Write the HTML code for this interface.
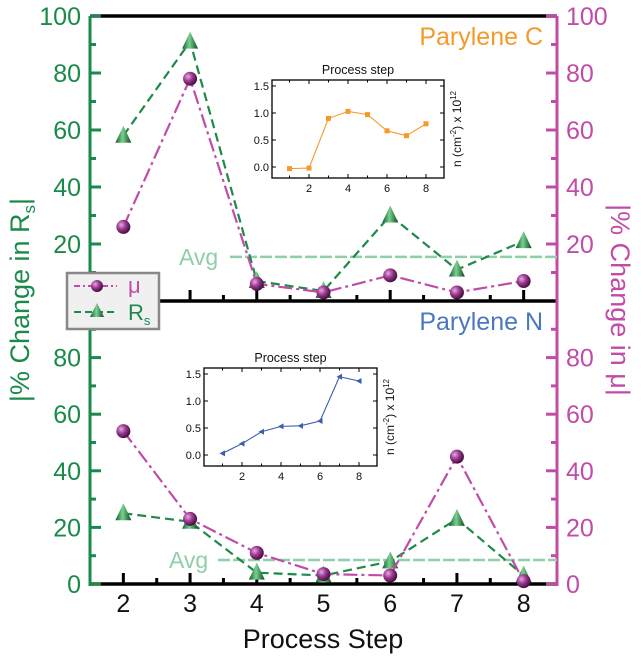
<!DOCTYPE html>
<html><head><meta charset="utf-8"><style>
html,body{margin:0;padding:0;background:#fff;}
svg{display:block;font-family:"Liberation Sans",sans-serif;}
</style></head><body>
<svg id="chart" width="643" height="661" viewBox="0 0 643 661">
<defs>
<radialGradient id="ball" cx="35%" cy="35%" r="65%"><stop offset="0" stop-color="#e8a8e0"/><stop offset="0.5" stop-color="#9a3a90"/><stop offset="1" stop-color="#4a1040"/></radialGradient>
<linearGradient id="cone" x1="0" x2="1"><stop offset="0" stop-color="#0e5a2a"/><stop offset="0.45" stop-color="#7ad090"/><stop offset="1" stop-color="#0c4a22"/></linearGradient>
</defs>
<g id="layer"></g>
</svg>
<script>
const steps = [2,3,4,5,6,7,8];
const topRs = [58,91,7,3.5,30,11,21];
const topMu = [26,78,6,3,9,3,7];
const topAvg = 15.5;
const botRs = [25,22,4,3,8,23,3];
const botMu = [54,23,11,3.5,3,45,1];
const botAvg = 8.5;
const insetX = [1,2,3,4,5,6,7,8];
const insetC = [-0.03,-0.02,0.9,1.03,0.97,0.67,0.58,0.8];
const insetN = [0.03,0.21,0.43,0.53,0.54,0.63,1.45,1.37];
const leftTicksTop = [20,40,60,80,100];
const leftTicksBot = [0,20,40,60,80];
const insetYTicks = [0,0.5,1.0,1.5];
const insetXTicks = [2,4,6,8];

const NS="http://www.w3.org/2000/svg";
const L=document.getElementById('layer');
function mk(tag,attrs,parent){const e=document.createElementNS(NS,tag);for(const k in attrs)e.setAttribute(k,attrs[k]);(parent||L).appendChild(e);return e;}
const X0=90,X1=557;
const xs=v=>X0+(v-1.5)/(7)*(X1-X0);
const yTop=v=>301-(v/100)*285;
const yBot=v=>584-(v/100)*283;
const GREEN="#1a8a4a",MAG="#c04ca8";

// axes
let e;
e=mk('line',{x1:X0,y1:16,x2:X1,y2:16,stroke:'#000','stroke-width':3.5});

e=mk('line',{x1:X0,y1:301,x2:X1,y2:301,stroke:'#000','stroke-width':3.5});

e=mk('line',{x1:X0,y1:584,x2:X1,y2:584,stroke:'#000','stroke-width':3.5});

e=mk('line',{x1:X0,y1:16,x2:X0,y2:586,stroke:GREEN,'stroke-width':3});

e=mk('line',{x1:X1,y1:16,x2:X1,y2:586,stroke:MAG,'stroke-width':3});


// x ticks on both panels
[301,584].forEach(yb=>{
  for(let v=2;v<=8;v+=0.5){
    const major=Number.isInteger(v);
    e=mk('line',{x1:xs(v),y1:yb,x2:xs(v),y2:yb-(major?11:6),stroke:'#000','stroke-width':3});
    
  }
});
steps.forEach(s=>{
  e=mk('text',{x:xs(s),y:612,'font-size':25,'text-anchor':'middle',fill:'#111'});e.textContent=s;
  
});
e=mk('text',{x:323,y:648,'font-size':27,'text-anchor':'middle',fill:'#111'});e.textContent='Process Step';


// y ticks
function yTicks(scale,ticks,minors){
  minors.forEach(v=>{
    e=mk('line',{x1:X0,y1:scale(v),x2:X0+6,y2:scale(v),stroke:GREEN,'stroke-width':3});
    
    e=mk('line',{x1:X1,y1:scale(v),x2:X1-6,y2:scale(v),stroke:MAG,'stroke-width':3});
    
  });
  ticks.forEach(v=>{
    e=mk('line',{x1:X0,y1:scale(v),x2:X0+11,y2:scale(v),stroke:GREEN,'stroke-width':3});
    
    e=mk('line',{x1:X1,y1:scale(v),x2:X1-11,y2:scale(v),stroke:MAG,'stroke-width':3});
    
    e=mk('text',{x:X0-9,y:scale(v)+9,'font-size':25,'text-anchor':'end',fill:GREEN});e.textContent=v;
    
    e=mk('text',{x:X1+9,y:scale(v)+9,'font-size':25,'text-anchor':'start',fill:MAG});e.textContent=v;
    
  });
}
yTicks(yTop,leftTicksTop,[10,30,50,70,90]);
yTicks(yBot,leftTicksBot,[10,30,50,70,90]);

e=mk('text',{x:0,y:0,'font-size':27,'text-anchor':'middle',fill:GREEN,transform:'translate(29,300) rotate(-90)'});
e.innerHTML='|% Change in R<tspan font-size="17" dy="6">s</tspan><tspan dy="-6">|</tspan>';

e=mk('text',{x:0,y:0,'font-size':27,'text-anchor':'middle',fill:MAG,transform:'translate(611,300) rotate(90)'});
e.textContent='|% Change in \u03bc|';


e=mk('text',{x:543,y:45,'font-size':25,'text-anchor':'end',fill:'#f59a2a'});e.textContent='Parylene C';

e=mk('text',{x:543,y:330,'font-size':25,'text-anchor':'end',fill:'#4a78c0'});e.textContent='Parylene N';


// avg lines
function avg(scale,v,xStart,tx){
  e=mk('line',{x1:xStart,y1:scale(v),x2:X1,y2:scale(v),stroke:'#8fd0a8','stroke-width':2.5,'stroke-dasharray':'12,3'});
  
  e=mk('text',{x:tx,y:scale(v)+8,'font-size':23,fill:'#8fd0a8'});e.textContent='Avg';
  
}
avg(yTop,topAvg,230,179);
avg(yBot,botAvg,218,169);

function series(scale,vals,color,dash,kind){
  const pts=steps.map((s,i)=>xs(s)+','+scale(vals[i])).join(' ');
  e=mk('polyline',{points:pts,fill:'none',stroke:color,'stroke-width':2.2,'stroke-dasharray':dash});
  
  steps.forEach((s,i)=>{
    const x=xs(s),y=scale(vals[i]);
    if(kind==='mu'){
      e=mk('circle',{cx:x,cy:y,r:7,fill:'url(#ball)'});
      
    }else{
      e=mk('polygon',{points:`${x},${y-10} ${x-8},${y+7} ${x+8},${y+7}`,fill:'url(#cone)'});
      
    }
  });
}
series(yTop,topRs,'#1e8a48','9,5','rs');
series(yTop,topMu,'#c04ca8','14,4,3,4','mu');
series(yBot,botRs,'#1e8a48','9,5','rs');
series(yBot,botMu,'#c04ca8','14,4,3,4','mu');

// legend
e=mk('rect',{x:67,y:273,width:92,height:56,fill:'#f0f0f0',stroke:'#888','stroke-width':2.5});

e=mk('line',{x1:74,y1:286,x2:117,y2:286,stroke:MAG,'stroke-width':2,'stroke-dasharray':'6,3,2,3'});

e=mk('circle',{cx:97,cy:286,r:6,fill:'url(#ball)'});

e=mk('text',{x:128,y:293,'font-size':22,fill:MAG});e.textContent='\u03bc';

e=mk('line',{x1:74,y1:312,x2:117,y2:312,stroke:'#1e8a48','stroke-width':2,'stroke-dasharray':'7,4'});

e=mk('polygon',{points:'97,303 90,317 104,317',fill:'url(#cone)'});

e=mk('text',{x:128,y:320,'font-size':22,fill:GREEN});e.innerHTML='R<tspan font-size="13" dy="5">s</tspan>';


// insets
function inset(fx0,fy0,fx1,fy1,y15,y0,x2,x8,vals,color,marker,name){
  const ix=v=>x2+(v-2)/6*(x8-x2);
  const iy=v=>y0-(v/1.5)*(y0-y15);
  const g=mk('g',{});
  
  e=mk('rect',{x:fx0,y:fy0,width:fx1-fx0,height:fy1-fy0,fill:'#fff',stroke:'#000','stroke-width':1.3},g);
  
  insetYTicks.forEach(v=>{
    e=mk('line',{x1:fx0,y1:iy(v),x2:fx0+4,y2:iy(v),stroke:'#000'},g);
    
    e=mk('line',{x1:fx1,y1:iy(v),x2:fx1-4,y2:iy(v),stroke:'#000'},g);
    
    e=mk('text',{x:fx0-3,y:iy(v)+4,'font-size':11,'text-anchor':'end',fill:'#111'},g);e.textContent=v.toFixed(1);
    
  });
  for(let v=1;v<=8;v++){
    e=mk('line',{x1:ix(v),y1:fy1,x2:ix(v),y2:fy1-(v%2?2.5:4),stroke:'#000'},g);
    
    e=mk('line',{x1:ix(v),y1:fy0,x2:ix(v),y2:fy0+(v%2?2.5:4),stroke:'#000'},g);
    
  }
  insetXTicks.forEach(v=>{
    e=mk('text',{x:ix(v),y:fy1+14,'font-size':11,'text-anchor':'middle',fill:'#111'},g);e.textContent=v;
    
  });
  e=mk('text',{x:(fx0+fx1)/2,y:fy0-6,'font-size':12.5,'text-anchor':'middle',fill:'#111'},g);e.textContent='Process step';
  
  e=mk('text',{x:0,y:0,'font-size':12,'text-anchor':'middle',fill:'#111',transform:`translate(${fx1+17},${(fy0+fy1)/2}) rotate(-90)`},g);
  e.innerHTML='n (cm<tspan font-size="8" dy="-5">-2</tspan><tspan dy="5">) x 10</tspan><tspan font-size="8" dy="-5">12</tspan>';
  
  e=mk('polyline',{points:insetX.map((s,i)=>ix(s)+','+iy(vals[i])).join(' '),fill:'none',stroke:color,'stroke-width':1.1},g);
  
  insetX.forEach((s,i)=>{
    const x=ix(s),y=iy(vals[i]);
    if(marker==='sq') e=mk('rect',{x:x-2.5,y:y-2.5,width:5,height:5,fill:color},g);
    else e=mk('polygon',{points:`${x-3},${y} ${x+2.5},${y-3} ${x+2.5},${y+3}`,fill:color},g);
    
  });
}
inset(272,80,444,178,86,167,309,426,insetC,'#f59a2a','sq','inset-parylene-c');
inset(204,368,377,466,374,455,242,359,insetN,'#3a5eb0','tri','inset-parylene-n');
</script>
</body></html>
